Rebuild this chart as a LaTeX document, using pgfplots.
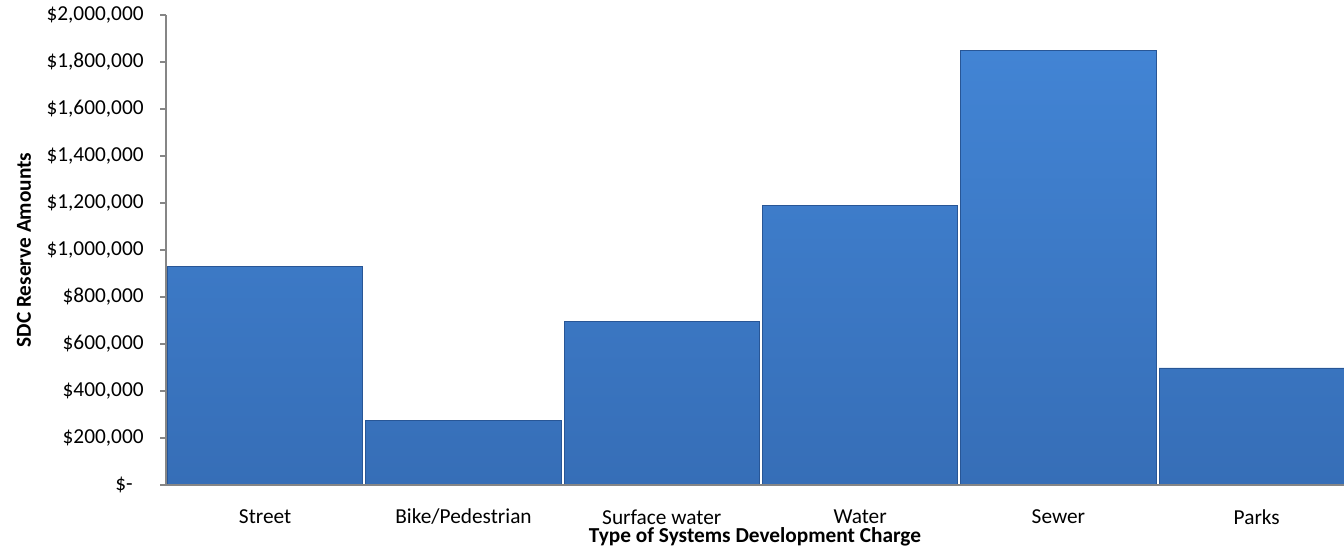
\documentclass[border=0pt]{standalone}
\usepackage{fontspec}
\setmainfont{Carlito}
\usepackage{pgfplots}
\pgfplotsset{compat=1.18}
\definecolor{barTop}{RGB}{66,132,212}
\definecolor{barBot}{RGB}{54,110,183}
\definecolor{barEdge}{RGB}{40,86,150}
\definecolor{axGray}{RGB}{134,134,134}
\begin{document}
\begin{tikzpicture}
\useasboundingbox (0,0) rectangle (672bp,274bp);
\begin{axis}[
  at={(83bp,31.5bp)}, anchor=south west,
  scale only axis, width=589bp, height=235bp,
  xmin=-0.5, xmax=5.44, ymin=0, ymax=2000000,
  ybar, bar width=0.985,
  axis x line*=bottom, axis y line*=left,
  axis line style={-, draw=axGray, line width=0.8bp},
  xtick=data,
  xticklabels={Street,Bike/Pedestrian,Surface water,Water,Sewer,Parks},
  major x tick style={draw=none},
  scaled y ticks=false,
  ytick={0,200000,400000,600000,800000,1000000,1200000,1400000,1600000,1800000,2000000},
  yticklabels={{\$-\kern5.5bp\relax},{\$200,000},{\$400,000},{\$600,000},{\$800,000},{\$1,000,000},{\$1,200,000},{\$1,400,000},{\$1,600,000},{\$1,800,000},{\$2,000,000}},
  tick align=outside,
  major y tick style={draw=axGray, line width=0.8bp},
  major tick length=3bp,
  /pgf/number format/assume math mode=true,
  ticklabel style={font=\fontsize{10.7}{12}\selectfont},
  yticklabel style={anchor=east, inner sep=0pt, xshift=-8bp},
  xticklabel style={anchor=center, inner sep=0pt, yshift=-13bp},
  xlabel={Type of Systems Development Charge},
  ylabel={SDC Reserve Amounts},
  label style={font=\fontsize{10.7}{12}\selectfont\bfseries},
  xlabel style={at={(axis description cs:0.5,0)}, anchor=center, yshift=-26bp},
  ylabel style={at={(axis description cs:0,0.5)}, anchor=center, yshift=71bp},
  axis on top,
  clip=true,
]
\addplot[top color=barTop, bottom color=barBot, draw=barEdge, line width=0.4bp]
  coordinates {(0,930000) (1,276000) (2,696000) (3,1188000) (4,1848000) (5,498000)};
\end{axis}
\end{tikzpicture}
\end{document}
